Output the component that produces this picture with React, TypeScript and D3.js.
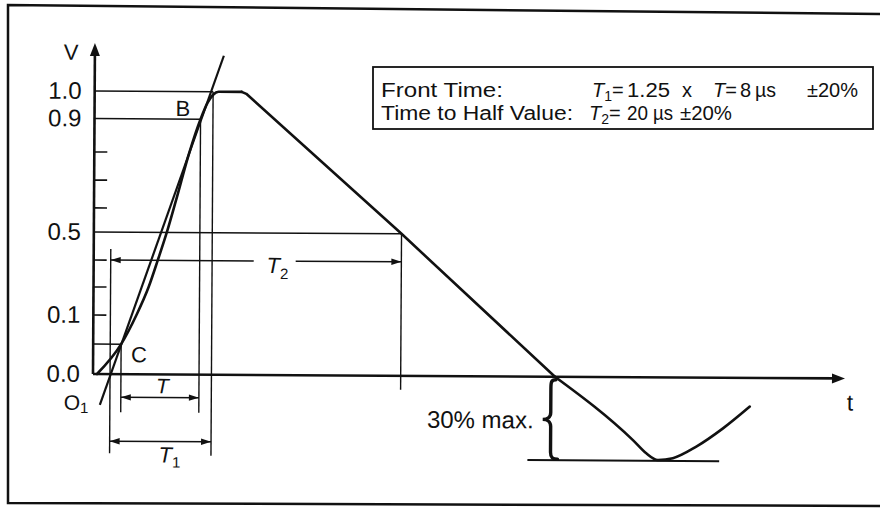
import React from 'react';
import * as d3 from 'd3';

// ---- data (time in µs-like diagram units, voltage in per-unit) ----
const xDomain = [0, 60];
const yDomain = [-0.3, 0, 0.1, 0.5, 0.9, 1.0];

// front of the impulse (rise up to the crest plateau)
const frontT = [0.32, 2.23, 3.43, 4.39, 5.11, 5.82, 6.54, 7.58, 8.46, 9.02, 9.45, 9.89, 11.73];
const frontV = [0, 0.0508, 0.1, 0.235, 0.365, 0.5, 0.613, 0.782, 0.9, 0.96, 0.989, 1.0, 1.0];
// tail (straight decay through half value to the zero crossing)
const tailT = [11.73, 12.1, 24.55, 36.86];
const tailV = [1.0, 0.993, 0.5, 0];
// undershoot below zero
const underT = [36.86, 43.11, 44.18, 45.1, 46.3, 48.17, 50.29, 52.42];
const underV = [0, -0.226, -0.273, -0.297, -0.29, -0.248, -0.182, -0.103];

const tangentT = [0.56, 10.29];
const tangentV = [-0.111, 1.131];

const guideV = [1.0, 0.9, 0.5, 0.0508];
const guideEndT = [9.45, 8.46, 24.55, 2.23];

const vertT = [1.36, 2.23, 8.46, 9.45, 24.55];
const vertTop = [0.418, 0.0508, 0.9, 1.0, 0.5];
const vertBottom = [-0.284, -0.137, -0.137, -0.291, -0.05];

const dimStart = [2.23, 1.36, 1.36];
const dimEnd = [8.46, 9.45, 24.55];
const dimV = [-0.083, -0.241, 0.365];
const t2GapT = [12.77, 16.12];

const minorTicks = [0.235, 0.365, 0.585, 0.683, 0.782];
const labelTicks = [1.0, 0.9, 0.5, 0.1, 0.0];
const labelText = ['1.0', '0.9', '0.5', '0.1', '0.0'];

const undershootLevel = -0.3;
const undershootBaseT = [34.7, 50.0];
const braceT = 36.54;
const yAxisTopV = 1.1745;

const FONT = "'Liberation Sans', Arial, Helvetica, sans-serif";
const INK = '#111';

export default function App() {
  const x = d3.scaleLinear().domain(xDomain).range([93, 845]);
  const y = d3.scaleLinear().domain(yDomain).range([457.5, 374, 315, 232, 118.5, 91]);

  const curved = d3
    .line<[number, number]>()
    .x((d) => x(d[0]))
    .y((d) => y(d[1]))
    .curve(d3.curveMonotoneX);
  const straight = d3
    .line<[number, number]>()
    .x((d) => x(d[0]))
    .y((d) => y(d[1]));
  const zip = (a: number[], b: number[]) => a.map((t, i) => [t, b[i]] as [number, number]);

  const frontPath = curved(zip(frontT, frontV)) || '';
  const tailPath = straight(zip(tailT, tailV)) || '';
  const underPath = curved(zip(underT, underV)) || '';
  const tangentPath = straight(zip(tangentT, tangentV)) || '';

  const head = (tx: number, ty: number, dir: number, len = 10, hw = 3.2) =>
    `M${tx},${ty}L${tx - dir * len},${ty - hw}L${tx - dir * len},${ty + hw}Z`;

  const x0 = x(0);
  const y0 = y(0);

  // brace geometry
  const bx = x(braceT);
  const bTop = y(0) + 3;
  const bBot = y(undershootLevel) - 1;
  const bMid = (bTop + bBot) / 2;
  const bw = 8;
  const bracePath = `M${bx + 5},${bTop} C${bx},${bTop} ${bx},${bTop + 3} ${bx},${bTop + 9} L${bx},${bMid - 7} C${bx},${bMid - 2} ${bx - 4},${bMid} ${bx - bw},${bMid} C${bx - 4},${bMid} ${bx},${bMid + 2} ${bx},${bMid + 7} L${bx},${bBot - 7} C${bx},${bBot - 2} ${bx + 2},${bBot} ${bx + 7},${bBot}`;

  const sg = 'spacingAndGlyphs';

  return (
    <svg
      width={880}
      height={508}
      viewBox="0 0 880 508"
      style={{ position: 'absolute', left: 0, top: 0, display: 'block', background: '#fff' }}
      fontFamily={FONT}
    >
      {/* frame */}
      <path d="M880,14 L8,5 L8,503 L880,506" fill="none" stroke={INK} strokeWidth={2.5} />

      {/* legend */}
      <rect x={373} y={67} width={500} height={62} fill="#fff" stroke={INK} strokeWidth={1.8} />
      <text y={97} fontSize={20} fill={INK}>
        <tspan x={381} textLength={122} lengthAdjust={sg}>Front Time:</tspan>
        <tspan x={592} fontStyle="italic">T</tspan>
        <tspan dy={4} fontSize={14}>1</tspan>
        <tspan dy={-4}>=</tspan>
        <tspan x={627} textLength={43} lengthAdjust={sg}>1.25</tspan>
        <tspan x={682}>x</tspan>
        <tspan x={713} fontStyle="italic">T</tspan>
        <tspan>=</tspan>
        <tspan x={740}>8</tspan>
        <tspan x={755} textLength={21} lengthAdjust={sg}>µs</tspan>
        <tspan x={807} textLength={51} lengthAdjust={sg}>±20%</tspan>
      </text>
      <text y={120} fontSize={20} fill={INK}>
        <tspan x={381} textLength={192} lengthAdjust={sg}>Time to Half Value:</tspan>
        <tspan x={589} fontStyle="italic">T</tspan>
        <tspan dy={4} fontSize={14}>2</tspan>
        <tspan dy={-4}>=</tspan>
        <tspan x={627} textLength={21} lengthAdjust={sg}>20</tspan>
        <tspan x={653} textLength={20} lengthAdjust={sg}>µs</tspan>
        <tspan x={680} textLength={52} lengthAdjust={sg}>±20%</tspan>
      </text>

      <g transform="rotate(0.34, 93, 374)">
        {/* guide horizontals */}
        {guideV.map((v, i) => (
          <line key={'h' + i} x1={x0} x2={x(guideEndT[i])} y1={y(v)} y2={y(v)} stroke={INK} strokeWidth={1.5} />
        ))}
        {/* guide verticals */}
        {vertT.map((t, i) => (
          <line key={'v' + i} x1={x(t)} x2={x(t)} y1={y(vertTop[i])} y2={y(vertBottom[i])} stroke={INK} strokeWidth={1.4} />
        ))}
        {/* dimension arrows */}
        {dimStart.map((t, i) => {
          const yy = y(dimV[i]);
          const xa = x(t);
          const xb = x(dimEnd[i]);
          const isT2 = i === 2;
          return (
            <g key={'d' + i}>
              {isT2 ? (
                <>
                  <line x1={xa} x2={x(t2GapT[0])} y1={yy} y2={yy} stroke={INK} strokeWidth={1.5} />
                  <line x1={x(t2GapT[1])} x2={xb} y1={yy} y2={yy} stroke={INK} strokeWidth={1.5} />
                </>
              ) : (
                <line x1={xa} x2={xb} y1={yy} y2={yy} stroke={INK} strokeWidth={1.5} />
              )}
              <path d={head(xa, yy, -1)} fill={INK} />
              <path d={head(xb, yy, 1)} fill={INK} />
            </g>
          );
        })}

        {/* y ticks */}
        {minorTicks.concat([0.1]).map((v, i) => (
          <line key={'t' + i} x1={x0} x2={x0 + 13} y1={y(v)} y2={y(v)} stroke={INK} strokeWidth={1.6} />
        ))}
        {labelTicks.map((v, i) => (
          <text key={'l' + i} x={x0 - 13} y={y(v) + 8} fontSize={24} textAnchor="end" fill={INK}>
            {labelText[i]}
          </text>
        ))}

        {/* undershoot baseline */}
        <line x1={x(undershootBaseT[0])} x2={x(undershootBaseT[1])} y1={y(undershootLevel)} y2={y(undershootLevel)} stroke={INK} strokeWidth={2} />

        {/* tangent */}
        <path d={tangentPath} fill="none" stroke={INK} strokeWidth={2.2} />

        {/* waveform */}
        <path d={frontPath} fill="none" stroke={INK} strokeWidth={2.6} strokeLinejoin="round" strokeLinecap="round" />
        <path d={tailPath} fill="none" stroke={INK} strokeWidth={2.6} strokeLinejoin="round" strokeLinecap="round" />
        <path d={underPath} fill="none" stroke={INK} strokeWidth={2.6} strokeLinejoin="round" strokeLinecap="round" />

        {/* brace */}
        <path d={bracePath} fill="none" stroke={INK} strokeWidth={3.4} strokeLinecap="round" />
        <text x={bx - 17} y={bMid + 9} fontSize={24} textAnchor="end" fill={INK}>30% max.</text>

        {/* axes */}
        <line x1={x0} x2={x0} y1={y0} y2={y(yAxisTopV) + 8} stroke={INK} strokeWidth={2.6} />
        <path d={`M${x0},${y(yAxisTopV)} L${x0 - 5},${y(yAxisTopV) + 13} L${x0 + 5},${y(yAxisTopV) + 13} Z`} fill={INK} />
        <line x1={x0} x2={x(xDomain[1]) - 8} y1={y0} y2={y0} stroke={INK} strokeWidth={2.6} />
        <path d={`M${x(xDomain[1])},${y0} L${x(xDomain[1]) - 13},${y0 - 5} L${x(xDomain[1]) - 13},${y0 + 5} Z`} fill={INK} />

        {/* labels */}
        <text x={62} y={60} fontSize={22} fill={INK}>V</text>
        <text x={x(xDomain[1]) + 2} y={y0 + 32} fontSize={23} fill={INK}>t</text>
        <text x={174} y={115.5} fontSize={22} fill={INK}>B</text>
        <text x={131} y={362} fontSize={22} fill={INK}>C</text>
        <text x={64} y={410} fontSize={21} fill={INK}>
          O<tspan dy={3} fontSize={15}>1</tspan>
        </text>
        <text x={156} y={393} fontSize={21} fontStyle="italic" fill={INK}>T</text>
        <text x={159} y={462} fontSize={22} fill={INK}>
          <tspan fontStyle="italic">T</tspan>
          <tspan dy={5} fontSize={15}>1</tspan>
        </text>
        <text x={266} y={272} fontSize={22} fill={INK}>
          <tspan fontStyle="italic">T</tspan>
          <tspan dy={6} fontSize={15}>2</tspan>
        </text>
      </g>
    </svg>
  );
}
